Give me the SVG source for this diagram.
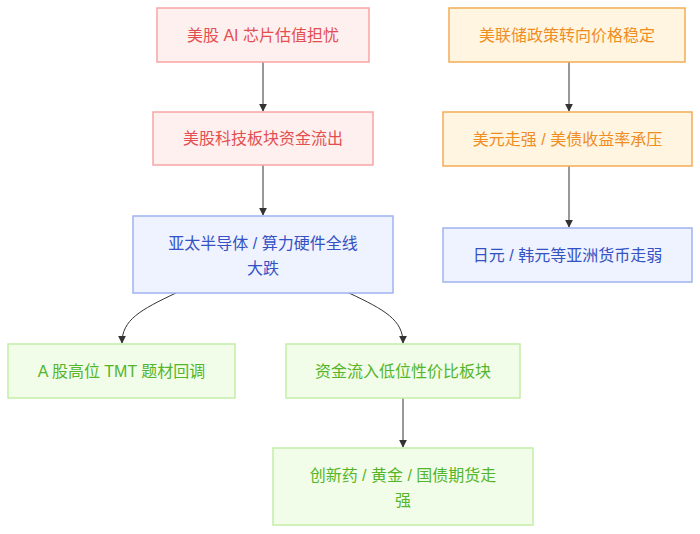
<svg xmlns="http://www.w3.org/2000/svg" width="700" height="534" viewBox="0 0 700 534">
<style>
text{font-family:"Liberation Sans","Noto Sans CJK SC",sans-serif;font-size:16px;text-anchor:middle;dominant-baseline:central}
.red rect{fill:#fff0f0;stroke:#f7a5a5;stroke-width:1.5}
.red text{fill:#e34f4f}
.org rect{fill:#fff5e1;stroke:#f3ad55;stroke-width:1.5}
.org text{fill:#ef8d1f}
.blu rect{fill:#eff3ff;stroke:#9fb3ef;stroke-width:1.5}
.blu text{fill:#3452c4}
.grn rect{fill:#f1fde8;stroke:#c4eea8;stroke-width:1.5}
.grn text{fill:#55b52a}
.e{fill:none;stroke:#333;stroke-width:1;marker-end:url(#a)}
</style>
<defs><marker id="a" viewBox="0 0 10 10" refX="9" refY="5" markerWidth="8" markerHeight="8" orient="auto"><path d="M0,0L10,5L0,10z" fill="#333"/></marker></defs>
<g id="edges">
<path class="e" d="M263,62V111"/>
<path class="e" d="M263,165V215"/>
<path class="e" d="M569,62V111"/>
<path class="e" d="M569,166V227"/>
<path class="e" d="M176,293C140,310 122,320 122,343"/>
<path class="e" d="M349,293C385,310 403,320 403,343"/>
<path class="e" d="M403,398V447"/>
</g>
<g id="n1" class="red"><rect x="157" y="8" width="212" height="54"/><text x="263" y="35">美股 AI 芯片估值担忧</text></g>
<g id="n2" class="red"><rect x="153" y="112" width="220" height="53"/><text x="263" y="138.5">美股科技板块资金流出</text></g>
<g id="n3" class="blu"><rect x="133" y="216" width="260" height="77"/><text x="263" y="243">亚太半导体 / 算力硬件全线</text><text x="263" y="268">大跌</text></g>
<g id="n4" class="org"><rect x="449" y="8" width="236" height="54"/><text x="567" y="35">美联储政策转向价格稳定</text></g>
<g id="n5" class="org"><rect x="443" y="112" width="249" height="54"/><text x="567.5" y="139">美元走强 / 美债收益率承压</text></g>
<g id="n6" class="blu"><rect x="443" y="228" width="249" height="54"/><text x="567.5" y="255">日元 / 韩元等亚洲货币走弱</text></g>
<g id="n7" class="grn"><rect x="8" y="344" width="227" height="54"/><text x="121.5" y="371">A 股高位 TMT 题材回调</text></g>
<g id="n8" class="grn"><rect x="286" y="344" width="234" height="54"/><text x="403" y="371">资金流入低位性价比板块</text></g>
<g id="n9" class="grn"><rect x="273" y="448" width="260" height="77"/><text x="403" y="475">创新药 / 黄金 / 国债期货走</text><text x="403" y="500">强</text></g>
</svg>
